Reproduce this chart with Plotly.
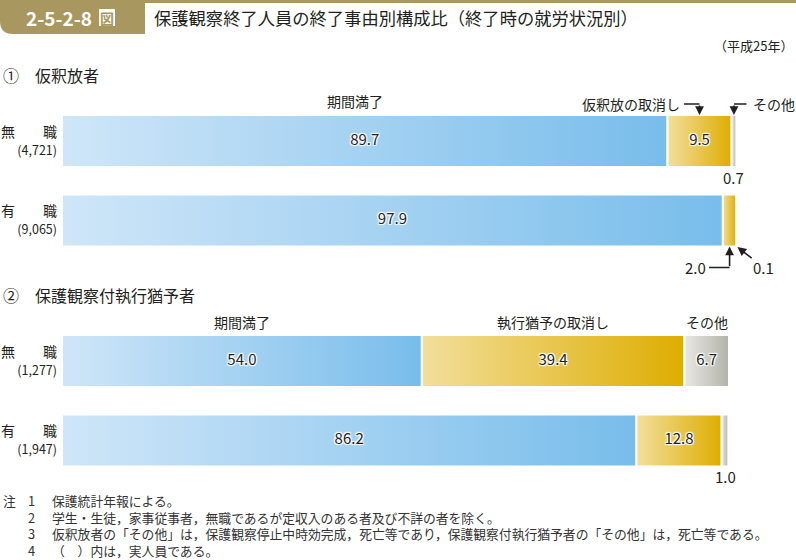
import plotly.graph_objects as go

W, H = 796, 560
FONT = "Noto Sans CJK JP"
INK = "#231f20"
GOLD = "#a89860"

# ---------------- data ----------------
rows = ['無　　職', '有　　職']

p1_title = '①　仮釈放者'
p1_counts = ['4,721', '9,065']
p1_names = ['期間満了', '仮釈放の取消し', 'その他']
p1_expire = [89.7, 97.9]
p1_revoke = [9.5, 2.0]
p1_other = [0.7, 0.1]

p2_title = '②　保護観察付執行猶予者'
p2_counts = ['1,277', '1,947']
p2_names = ['期間満了', '執行猶予の取消し', 'その他']
p2_expire = [54.0, 86.2]
p2_revoke = [39.4, 12.8]
p2_other = [6.7, 1.0]

fig_no = '2-5-2-8'
title = '保護観察終了人員の終了事由別構成比（終了時の就労状況別）'
year = '（平成25年）'
notes = [
    '保護統計年報による。',
    '学生・生徒，家事従事者，無職であるが定収入のある者及び不詳の者を除く。',
    '仮釈放者の「その他」は，保護観察停止中時効完成，死亡等であり，保護観察付執行猶予者の「その他」は，死亡等である。',
    '（　）内は，実人員である。',
]

# ---------------- style ----------------
GRADS = [('#cfe6f8', '#78bdeb'), ('#f2df9c', '#dead00'), ('#e9e9e3', '#b2b3a8')]
HALF = 0.327
SHADOW = ("1px 1px 1px #fff, -1px -1px 1px #fff, 1px -1px 1px #fff, "
          "-1px 1px 1px #fff, 0 0 2px #fff")


def px(x):
    return x / W


def py(y):
    return 1 - y / H


fig = go.Figure()
annotations = []
shapes = []


def add_panel(series, xa, ya):
    tx, ty, tt = [], [], []
    for i in range(len(rows)):
        left = 0.0
        for k, vals in enumerate(series):
            v = vals[i]
            right = left + v
            c0, c1 = GRADS[k]
            fig.add_trace(go.Scatter(
                x=[left, right, right, left, left],
                y=[i - HALF, i - HALF, i + HALF, i + HALF, i - HALF],
                mode='lines', fill='toself',
                fillgradient=dict(type='horizontal', colorscale=[[0, c0], [1, c1]]),
                line=dict(color='white', width=2),
                xaxis=xa, yaxis=ya, hoverinfo='skip', showlegend=False))
            if v >= 5:
                tx.append((left + right) / 2)
                ty.append(i)
                tt.append(f'{v:.1f}')
            left = right
    fig.add_trace(go.Scatter(
        x=tx, y=ty, text=tt, mode='text', textposition='middle center',
        textfont=dict(family=FONT, size=15, color=INK, shadow=SHADOW),
        xaxis=xa, yaxis=ya, hoverinfo='skip', showlegend=False))


s1 = [p1_expire, p1_revoke, p1_other]
s2 = [p2_expire, p2_revoke, p2_other]
add_panel(s1, 'x', 'y')
add_panel(s2, 'x2', 'y2')


def centers(series, i):
    out, left = [], 0.0
    for vals in series:
        out.append(left + vals[i] / 2)
        left += vals[i]
    return out


def arrow(xr, yr, x, y, ax, ay, head=2, yshift=0):
    annotations.append(dict(xref=xr, yref=yr, x=x, y=y, text='', showarrow=True,
                            ax=ax, ay=ay, arrowhead=head, arrowsize=1.1, arrowwidth=1.6,
                            arrowcolor=INK, standoff=0, yshift=yshift))


def hline(xr, yr, x, y, dx, dy):
    # plain connector segment from the elbow point sideways (no arrow head)
    arrow(xr, yr, x, y, dx, 0, head=0, yshift=dy)


def text(xr, yr, x, y, t, size=14, xanchor='center', yanchor='middle', xshift=0, yshift=0):
    annotations.append(dict(xref=xr, yref=yr, x=x, y=y, text=t, showarrow=False,
                            xanchor=xanchor, yanchor=yanchor, xshift=xshift, yshift=yshift,
                            font=dict(family=FONT, size=size, color=INK)))


# panel 1 labels
c10 = centers(s1, 0)
c11 = centers(s1, 1)
top0, bot0, bot1 = -HALF, HALF, 1 + HALF
text('x', 'y', c10[0], top0, p1_names[0], yanchor='bottom', yshift=2, xshift=-10)
# 仮釈放の取消し  (elbow arrow)
arrow('x', 'y', c10[1], top0, 0, -11)
hline('x', 'y', c10[1], top0, -17, 11)
text('x', 'y', c10[1], top0, p1_names[1], xanchor='right', xshift=-18, yshift=11)
# その他
arrow('x', 'y', c10[2], top0, 0, -11)
hline('x', 'y', c10[2], top0, 14, 11)
text('x', 'y', c10[2], top0, p1_names[2], xanchor='left', xshift=17, yshift=11)
# 0.7 below
text('x', 'y', c10[2], bot0, f'{p1_other[0]:.1f}', size=15, yanchor='top', yshift=2)
# 2.0 elbow below
arrow('x', 'y', c11[1], bot1, 0, 21)
hline('x', 'y', c11[1], bot1, -22, -21)
text('x', 'y', c11[1], bot1, f'{p1_revoke[1]:.1f}', size=15, xanchor='right', xshift=-22, yshift=-21)
# 0.1 diagonal
annotations.append(dict(xref='x', yref='y', x=c11[2], y=bot1, text=f'{p1_other[1]:.1f}',
                        showarrow=True, ax=27, ay=21, arrowhead=2, arrowsize=1.1,
                        arrowwidth=1.6, arrowcolor=INK, standoff=1,
                        font=dict(family=FONT, size=15, color=INK)))

# panel 2 labels
c20 = centers(s2, 0)
c21 = centers(s2, 1)
for k in range(3):
    text('x2', 'y2', c20[k], top0, p2_names[k], yanchor='bottom', yshift=1)
text('x2', 'y2', c21[2], 1 + HALF, f'{p2_other[1]:.1f}', size=15, yanchor='top', yshift=3)

# ---------------- header & texts ----------------
tab = (f'M {px(0)},{py(0)} L {px(145)},{py(0)} L {px(145)},{py(34)} L {px(13)},{py(34)} '
       f'Q {px(0)},{py(34)} {px(0)},{py(21)} Z')
shapes.append(dict(type='path', xref='paper', yref='paper', path=tab,
                   fillcolor=GOLD, line=dict(width=0), layer='below'))
shapes.append(dict(type='rect', xref='paper', yref='paper', x0=px(145), x1=px(796),
                   y0=py(0), y1=py(3), fillcolor=GOLD, line=dict(width=0)))
shapes.append(dict(type='rect', xref='paper', yref='paper', x0=px(99), x1=px(115),
                   y0=py(9), y1=py(26), fillcolor='white', line=dict(width=0)))


def ptext(x, y, t, size, color=INK, xanchor='left', weight='normal'):
    annotations.append(dict(xref='paper', yref='paper', x=px(x), y=py(y), text=t,
                            showarrow=False, xanchor=xanchor, yanchor='middle', align='left',
                            font=dict(family=FONT, size=size, color=color, weight=weight)))


ptext(94, 17.5, fig_no, 19, color='white', xanchor='right', weight='bold')
ptext(107, 17.5, '図', 14, color=GOLD, xanchor='center', weight='bold')
ptext(152, 17, title, 17.3)
ptext(795, 45, year, 13, xanchor='right')
ptext(1, 75, p1_title, 16)
ptext(1, 295, p2_title, 16)

NOTE_SIZE = 12.8
note_mid = 525
ptext(1, 500, '注', NOTE_SIZE, color='#333')
ptext(26, note_mid, '<br>'.join(str(j + 1) for j in range(len(notes))), NOTE_SIZE, color='#333')
ptext(50, note_mid, '<br>'.join(notes), NOTE_SIZE, color='#333')


def ticks(counts):
    return [f'{r}<br><span style="font-size:12.5px">({c})</span>' for r, c in zip(rows, counts)]


xr1 = 734 / ((737 - 62) / 100)
xr2 = 734 / ((729 - 62) / 100.1)
xdom = [px(62), 1]
ax_common = dict(showgrid=False, zeroline=False, showline=False, showticklabels=False, fixedrange=True)
ycommon = dict(showgrid=False, zeroline=False, showline=False, ticks='', fixedrange=True,
               range=[1.5, -0.5], tickvals=[0, 1], ticklabelstandoff=4,
               tickfont=dict(family=FONT, size=14, color=INK))

fig.update_layout(
    width=W, height=H, margin=dict(l=0, r=0, t=0, b=0),
    paper_bgcolor='white', plot_bgcolor='white',
    xaxis=dict(domain=xdom, range=[0, xr1], anchor='y', **ax_common),
    xaxis2=dict(domain=xdom, range=[0, xr2], anchor='y2', **ax_common),
    yaxis=dict(domain=[py(260.25), py(101.25)], anchor='x', ticktext=ticks(p1_counts), **ycommon),
    yaxis2=dict(domain=[py(480.25), py(321.25)], anchor='x2', ticktext=ticks(p2_counts), **ycommon),
    annotations=annotations, shapes=shapes,
    font=dict(family=FONT, color=INK),
    showlegend=False,
)

fig.write_html('out.html')
